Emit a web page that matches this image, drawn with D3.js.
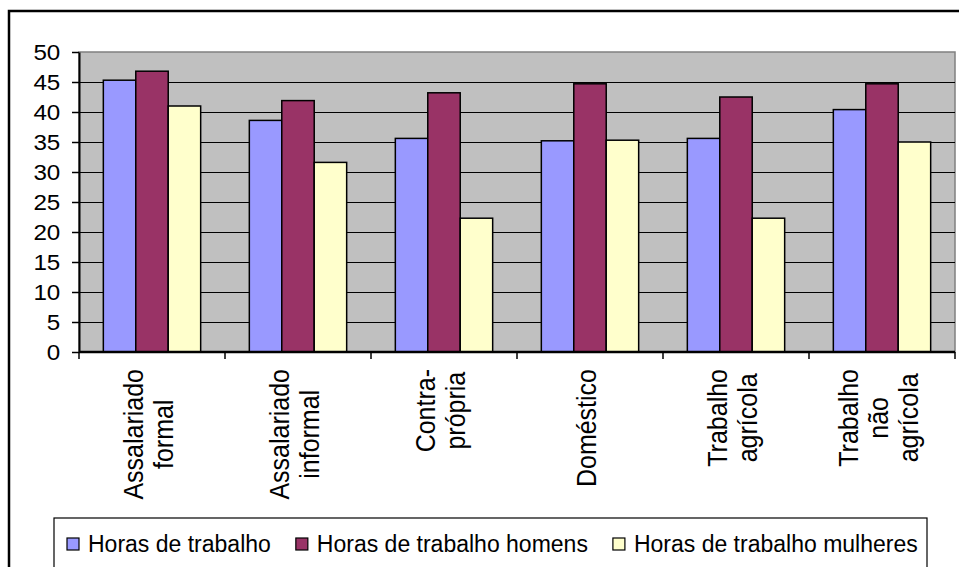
<!DOCTYPE html>
<html lang="pt">
<head>
<meta charset="utf-8">
<title>Horas de trabalho por categoria</title>
<script src="https://d3js.org/d3.v7.min.js"></script>
<style>
    html, body { margin: 0; padding: 0; background: #fff; }
    svg { display: block; }
    text { font-family: Arial, 'Liberation Sans', sans-serif; fill: #000; }
</style>
</head>
<body>
<svg id="chart"></svg>
<script>
    // Data
    const categories = [
        ["Assalariado", "formal"],
        ["Assalariado", "informal"],
        ["Contra-", "própria"],
        ["Doméstico"],
        ["Trabalho", "agrícola"],
        ["Trabalho", "não", "agrícola"]
    ];
    const seriesNames = ["Horas de trabalho", "Horas de trabalho homens", "Horas de trabalho mulheres"];
    const horasTotal    = [45.3, 38.6, 35.6, 35.2, 35.6, 40.4];
    const horasHomens   = [46.8, 41.9, 43.2, 44.7, 42.5, 44.7];
    const horasMulheres = [41.0, 31.6, 22.3, 35.3, 22.3, 35.0];
    const yTicks = [0, 5, 10, 15, 20, 25, 30, 35, 40, 45, 50];
    const colors = ["#9999ff", "#993366", "#ffffcc"];

    const series = [horasTotal, horasHomens, horasMulheres];
    const catKeys = categories.map(c => c.join(" "));

    // Layout
    const WIDTH = 959, HEIGHT = 567;
    const PLOT = { left: 79, right: 955, top: 52, bottom: 352 };
    const STRETCH = 1.1;   // the original text looks a little wide

    const svg = d3.select("#chart")
        .attr("width", WIDTH)
        .attr("height", HEIGHT);

    // outer frame (right and bottom edges run off the picture)
    svg.append("rect")
        .attr("x", 9).attr("y", 11)
        .attr("width", 970).attr("height", 580)
        .attr("fill", "#fff")
        .attr("stroke", "#000")
        .attr("stroke-width", 2.5);

    const x0 = d3.scaleBand()
        .domain(catKeys)
        .range([PLOT.left, PLOT.right])
        .padding(0);

    const x1 = d3.scaleBand()
        .domain(d3.range(series.length))
        .range([0, x0.step()])
        .paddingInner(0)
        .paddingOuter(0.75);

    const y = d3.scaleLinear()
        .domain([0, 50])
        .range([PLOT.bottom, PLOT.top]);

    // plot area background
    svg.append("rect")
        .attr("x", PLOT.left).attr("y", PLOT.top)
        .attr("width", PLOT.right - PLOT.left)
        .attr("height", PLOT.bottom - PLOT.top)
        .attr("fill", "#c0c0c0")
        .attr("stroke", "#808080")
        .attr("stroke-width", 1.5);

    // gridlines
    const grid = svg.append("g")
        .attr("transform", `translate(${PLOT.left},0)`)
        .call(d3.axisLeft(y)
            .tickValues(yTicks.filter(t => t > 0 && t < 50))
            .tickSize(-(PLOT.right - PLOT.left))
            .tickFormat(""));
    grid.select(".domain").remove();
    grid.selectAll("line").attr("stroke", "#000").attr("stroke-width", 1.2);

    // bars
    const groups = svg.append("g")
        .selectAll("g")
        .data(catKeys)
        .join("g")
        .attr("transform", d => `translate(${x0(d)},0)`);

    groups.selectAll("rect")
        .data((d, i) => series.map((s, j) => ({ s: j, v: s[i] })))
        .join("rect")
        .attr("x", d => x1(d.s))
        .attr("y", d => y(d.v))
        .attr("width", x1.bandwidth())
        .attr("height", d => y(0) - y(d.v))
        .attr("fill", d => colors[d.s])
        .attr("stroke", "#000")
        .attr("stroke-width", 1.5);

    // y axis
    const yAxis = svg.append("g")
        .attr("transform", `translate(${PLOT.left},0)`)
        .call(d3.axisLeft(y)
            .tickValues(yTicks)
            .tickSize(7)
            .tickSizeOuter(0)
            .tickPadding(10));
    yAxis.select(".domain").attr("stroke", "#000").attr("stroke-width", 2);
    yAxis.selectAll("line").attr("stroke", "#000").attr("stroke-width", 1.5);
    yAxis.selectAll("text")
        .style("font-size", "22px")
        .attr("transform", `scale(${STRETCH},1)`);

    // x axis (ticks sit between the categories)
    const boundaries = catKeys.map(c => x0(c)).concat([PLOT.right]);
    const xAxis = svg.append("g");
    xAxis.append("line")
        .attr("x1", PLOT.left).attr("x2", PLOT.right)
        .attr("y1", y(0)).attr("y2", y(0))
        .attr("stroke", "#000").attr("stroke-width", 2.5);
    xAxis.selectAll("line.tick")
        .data(boundaries)
        .join("line")
        .attr("class", "tick")
        .attr("x1", d => d).attr("x2", d => d)
        .attr("y1", y(0)).attr("y2", y(0) + 7)
        .attr("stroke", "#000").attr("stroke-width", 1.5);

    // rotated category labels, top aligned, lines centred on each other
    const LABEL_TOP = 369, LINE_H = 30;
    catKeys.forEach((key, i) => {
        const lines = categories[i];
        const cx = x0(key) + x0.step() / 2;
        const g = svg.append("g");
        const texts = lines.map((ln, k) => g.append("text")
            .text(ln)
            .style("font-size", "25px")
            .attr("text-anchor", "middle"));
        const maxLen = d3.max(texts, t => t.node().getComputedTextLength());
        texts.forEach((t, k) => {
            const bx = cx + (k - (lines.length - 1) / 2) * LINE_H + 6;
            t.attr("transform",
                `translate(${bx},${LABEL_TOP + maxLen / 2}) scale(${STRETCH},1) rotate(-90)`);
        });
    });

    // legend
    const legend = svg.append("g");
    legend.append("rect")
        .attr("x", 54).attr("y", 518)
        .attr("width", 873).attr("height", 80)
        .attr("fill", "#fff")
        .attr("stroke", "#000")
        .attr("stroke-width", 1.2);
    let cursor = 67;
    seriesNames.forEach((name, j) => {
        legend.append("rect")
            .attr("x", cursor).attr("y", 538)
            .attr("width", 12).attr("height", 12)
            .attr("fill", colors[j])
            .attr("stroke", "#000")
            .attr("stroke-width", 1.2);
        const t = legend.append("text")
            .attr("x", cursor + 21)
            .attr("y", 552)
            .style("font-size", "23px")
            .text(name);
        cursor += 21 + t.node().getComputedTextLength() + 25;
    });
</script>
</body>
</html>
